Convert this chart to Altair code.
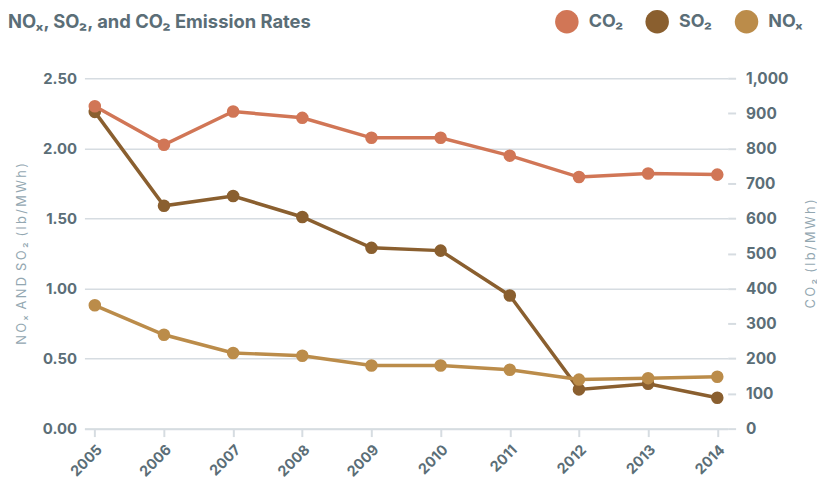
import altair as alt
import pandas as pd

years = ["2005", "2006", "2007", "2008", "2009", "2010", "2011", "2012", "2013", "2014"]
co2 = [920, 810, 905, 887, 830, 830, 779, 718, 728, 725]
so2 = [2.26, 1.59, 1.66, 1.51, 1.29, 1.27, 0.95, 0.28, 0.32, 0.22]
nox = [0.88, 0.67, 0.54, 0.52, 0.45, 0.45, 0.42, 0.35, 0.36, 0.37]

series_names = ["CO₂", "SO₂", "NOₓ"]
series_colors = ["#d17656", "#8a5f2f", "#bb8c4a"]
chart_title = ["NOₓ, SO₂, and CO₂ Emission Rates"]

TEXT = "#5b6e77"
LIGHT = "#93a7b1"
GRID = "#d6dce1"
FONT = "Inter"
TS = "\u2009"


def spaced(s):
    return TS.join(list(s)).replace(TS + " " + TS, " " + TS)


left_df = pd.DataFrame({
    "year": years * 2,
    "value": so2 + nox,
    "series": ["SO₂"] * len(years) + ["NOₓ"] * len(years),
})
right_df = pd.DataFrame({"year": years, "value": co2, "series": ["CO₂"] * len(years)})
title_df = pd.DataFrame({"t": chart_title})

color = alt.Color(
    "series:N",
    scale=alt.Scale(domain=series_names, range=series_colors),
    legend=alt.Legend(
        title=None, orient="none", direction="horizontal",
        legendX=474, legendY=-69,
        symbolType="circle", symbolSize=560, symbolStrokeWidth=0,
        labelFont=FONT, labelFontSize=18, labelFontWeight="bold", labelColor=TEXT,
        columnPadding=22, symbolOffset=0, labelOffset=10,
    ),
)

xenc = alt.X(
    "year:O", title=None,
    scale=alt.Scale(type="point", padding=0.15),
    axis=alt.Axis(labelAngle=315, labelFont=FONT, labelFontSize=14.5, labelFontWeight="bold",
                  labelColor=TEXT, tickColor=GRID, tickSize=8, tickWidth=2,
                  domainColor=GRID, domainWidth=2, labelPadding=6, grid=False),
)

left = alt.Chart(left_df).mark_line(
    strokeWidth=3.5, point=alt.OverlayMarkDef(size=160, filled=True, opacity=1)
).encode(
    x=xenc,
    y=alt.Y("value:Q", scale=alt.Scale(domain=[0, 2.5], nice=False),
            axis=alt.Axis(title=spaced("NOₓ AND SO₂ (lb/MWh)"), values=[0, 0.5, 1, 1.5, 2, 2.5],
                          format=".2f", orient="left", tickSize=0, domain=False,
                          grid=True, gridColor=GRID, gridWidth=1.5,
                          labelFont=FONT, labelFontSize=15, labelFontWeight="bold",
                          labelColor=TEXT, labelPadding=8,
                          titleFont=FONT, titleFontSize=13, titleFontWeight="normal",
                          titleColor=LIGHT, titlePadding=14)),
    color=color,
    detail="series:N",
)

right = alt.Chart(right_df).mark_line(
    strokeWidth=3.5, point=alt.OverlayMarkDef(size=160, filled=True, opacity=1)
).encode(
    x=xenc,
    y=alt.Y("value:Q", scale=alt.Scale(domain=[0, 1000], nice=False),
            axis=alt.Axis(title=spaced("CO₂ (lb/MWh)"), values=list(range(0, 1001, 100)),
                          format=",.0f", orient="right", tickSize=8, tickColor=GRID, tickWidth=2,
                          domain=False, grid=False,
                          labelFont=FONT, labelFontSize=15.5, labelFontWeight="bold",
                          labelColor=TEXT, labelPadding=10,
                          titleFont=FONT, titleFontSize=13, titleFontWeight="normal",
                          titleColor=LIGHT, titlePadding=30, titleAngle=270)),
    color=color,
)

title_layer = alt.Chart(title_df).mark_text(
    align="left", baseline="alphabetic", font=FONT, fontSize=18.5, fontWeight="bold", color=TEXT
).encode(x=alt.value(-77), y=alt.value(-51), text="t:N")

chart = alt.layer(left, right, title_layer).resolve_scale(y="independent").properties(
    width=648, height=353,
    autosize=alt.AutoSizeParams(type="none"),
    padding={"left": 77, "top": 69, "right": 90, "bottom": 52},
).configure_view(stroke=None)

chart.save("out.html", embed_options={"renderer": "svg", "actions": False})
